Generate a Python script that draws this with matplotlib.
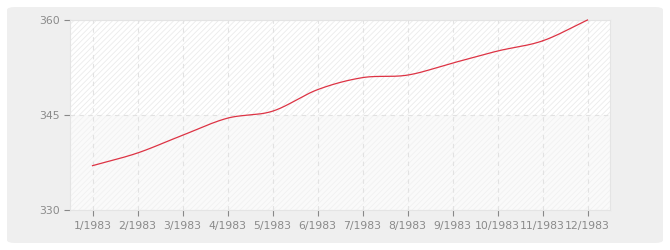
import matplotlib
matplotlib.use("Agg")
import matplotlib.pyplot as plt
import numpy as np
from matplotlib.patches import FancyBboxPatch, Rectangle

months = ["1/1983", "2/1983", "3/1983", "4/1983", "5/1983", "6/1983",
          "7/1983", "8/1983", "9/1983", "10/1983", "11/1983", "12/1983"]
values = [337.0, 339.0, 341.8, 344.5, 345.6, 349.0, 350.9, 351.3, 353.2, 355.1, 356.7, 360.0]
yticks = [330, 345, 360]

plt.rcParams['hatch.color'] = '#e9e9e9'
plt.rcParams['hatch.linewidth'] = 0.6

fig = plt.figure(figsize=(6.7, 2.5), dpi=100)
fig.patch.set_facecolor('white')
bg = FancyBboxPatch((7/670, 7/250), 656/670, 236/250,
                    boxstyle="round,pad=0,rounding_size=0.012",
                    transform=fig.transFigure, facecolor='#efefef',
                    edgecolor='none', zorder=-10)
fig.patches.append(bg)

ax = fig.add_axes([70/670, 40/250, 540/670, 190/250], zorder=5)
ax.set_facecolor('white')
ax.add_patch(Rectangle((0, 0.5), 1, 0.5, transform=ax.transAxes,
                       facecolor='white', edgecolor='#ebebeb', hatch='//////', lw=0, zorder=0))
ax.add_patch(Rectangle((0, 0), 1, 0.5, transform=ax.transAxes,
                       facecolor='#fafafa', edgecolor='#f1f1f1', hatch='//////', lw=0, zorder=0))

x = np.arange(1, len(values) + 1).astype(float)
y = np.array(values)

# Catmull-Rom rendering of the smooth line through the data points
def catmull(xk, yk, n=40):
    px = np.concatenate([[2*xk[0]-xk[1]], xk, [2*xk[-1]-xk[-2]]])
    py = np.concatenate([[2*yk[0]-yk[1]], yk, [2*yk[-1]-yk[-2]]])
    ox, oy = [], []
    for i in range(1, len(px) - 2):
        t = np.linspace(0, 1, n)
        for arr, out in ((px, ox), (py, oy)):
            p0, p1, p2, p3 = arr[i-1], arr[i], arr[i+1], arr[i+2]
            out.extend(0.5*((2*p1) + (-p0+p2)*t + (2*p0-5*p1+4*p2-p3)*t**2
                            + (-p0+3*p1-3*p2+p3)*t**3))
    return np.array(ox), np.array(oy)

sx, sy = catmull(x, y)
ax.plot(sx, sy, color='#dd3344', lw=0.9, zorder=3, clip_on=False)

ax.set_xlim(0.5, 12.5)
ax.set_ylim(330, 360)
ax.set_xticks(x)
ax.set_xticklabels(months)
ax.set_yticks(yticks)
ax.grid(True, color='#e2e2e2', linestyle=(0, (4, 4)), lw=0.8, zorder=1)
ax.set_axisbelow(True)
for s in ax.spines.values():
    s.set_color('#e4e4e4')
    s.set_linewidth(0.8)
ax.tick_params(axis='both', colors='#888888', labelcolor='#8a8a8a', labelsize=7.8,
               length=4, width=0.8, direction='out')
ax.tick_params(axis='x', pad=4)
ax.tick_params(axis='y', pad=3)

fig.savefig("out.png", dpi=100, facecolor='white')
